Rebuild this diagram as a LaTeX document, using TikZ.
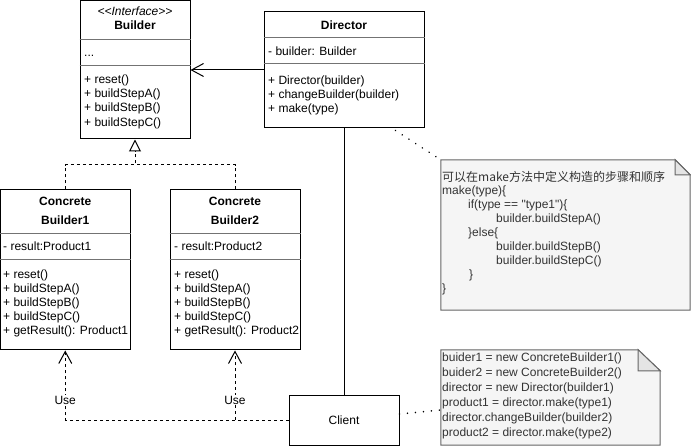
\documentclass[tikz,border=0pt]{standalone}
\usepackage{fontspec}
\setmainfont{Liberation Sans}[Ligatures=TeXOff]
\newfontfamily\cjkfont{Noto Sans CJK SC}
\usetikzlibrary{arrows.meta}
\definecolor{notefill}{HTML}{F5F5F5}
\definecolor{notestroke}{HTML}{666666}
\definecolor{notetext}{HTML}{333333}
\definecolor{foldfill}{HTML}{E4E4E4}
\tikzset{
  cls/.style={draw=black, line width=1pt, rectangle, inner sep=0pt, font=\fontsize{12}{14}\selectfont},
  sepline/.style={draw=black!55, line width=1pt},
  txt/.style={inner sep=0pt, anchor=west, align=left, font=\fontsize{12}{14.2}\selectfont},
  ttl/.style={inner sep=0pt, align=center, font=\fontsize{12}{19}\selectfont\bfseries},
  stereo/.style={inner sep=0pt, font=\fontsize{12}{14}\selectfont\itshape},
  notetxt/.style={inner sep=0pt, anchor=west, align=left, text=notetext, font=\fontsize{12}{14}\selectfont},
  notebox/.style={inner sep=0pt, rectangle},
  noteshape/.style={fill=notefill, draw=notestroke, line width=1pt, line join=miter},
  foldshape/.style={fill=foldfill, draw=notestroke, line width=1pt, line join=miter},
  assoc/.style={draw=black, line width=1pt, -{Straight Barb[length=12pt, width=13pt, line join=miter]}},
  usearrow/.style={draw=black, line width=1pt, dash pattern=on 3pt off 3pt, -{Straight Barb[length=12pt, width=13pt, line join=miter]}},
  inherit/.style={draw=black, line width=1pt, dash pattern=on 3pt off 3pt},
  dotline/.style={draw=black, line width=1.7pt, line cap=round, dash pattern=on 0.01pt off 8pt},
  plainline/.style={draw=black, line width=1pt},
  uselabel/.style={fill=white, inner sep=1pt, font=\fontsize{12}{14}\selectfont},
}
\begin{document}
\begin{tikzpicture}[x=1pt,y=-1pt]
\fill[white] (0,0) rectangle (691,446);
\useasboundingbox (0,0) rectangle (691,446);

% ---------- Builder (interface)
\node[cls, minimum width=110pt, minimum height=138pt] (builder) at (135,70) {};
\node[stereo] (builderstereo) at (135,11) {<\kern0pt<Interface>\kern0pt>};
\node[ttl] (buildername) at (135,25.5) {Builder};
\draw[sepline] (builder.west |- 0,39.5) -- (builder.east |- 0,39.5);
\node[txt] (builderattr) at (84,56) {...};
\draw[sepline] (builder.west |- 0,66) -- (builder.east |- 0,66);
\node[txt, font=\fontsize{12}{14.33}\selectfont] (buildermeth) at (84,101.5)
  {+ reset()\\+ buildStepA()\\+ buildStepB()\\+ buildStepC()};

% ---------- Director
\node[cls, minimum width=160pt, minimum height=116pt] (director) at (344,70) {};
\node[ttl] (directorname) at (344,25) {Director};
\draw[sepline] (director.west |- 0,37.5) -- (director.east |- 0,37.5);
\node[txt] (directorattr) at (268,51) {- builder: Builder};
\draw[sepline] (director.west |- 0,64) -- (director.east |- 0,64);
\node[txt] (directormeth) at (268,95.3)
  {+ Director(builder)\\+ changeBuilder(builder)\\+ make(type)};

% ---------- Concrete Builder 1
\node[cls, minimum width=129.5pt, minimum height=160pt] (cb1) at (65.25,270) {};
\node[ttl] (cb1name) at (65.25,210.5) {Concrete\\Builder1};
\draw[sepline] (cb1.west |- 0,233.5) -- (cb1.east |- 0,233.5);
\node[txt] (cb1attr) at (3,246.5) {- result:Product1};
\draw[sepline] (cb1.west |- 0,260) -- (cb1.east |- 0,260);
\node[txt, font=\fontsize{12}{14.15}\selectfont] (cb1meth) at (3,303.2)
  {+ reset()\\+ buildStepA()\\+ buildStepB()\\+ buildStepC()\\+ getResult(): Product1};

% ---------- Concrete Builder 2
\node[cls, minimum width=130pt, minimum height=160pt] (cb2) at (235,270) {};
\node[ttl] (cb2name) at (235,210.5) {Concrete\\Builder2};
\draw[sepline] (cb2.west |- 0,233.5) -- (cb2.east |- 0,233.5);
\node[txt] (cb2attr) at (174,246.5) {- result:Product2};
\draw[sepline] (cb2.west |- 0,260) -- (cb2.east |- 0,260);
\node[txt, font=\fontsize{12}{14.15}\selectfont] (cb2meth) at (174,303.2)
  {+ reset()\\+ buildStepA()\\+ buildStepB()\\+ buildStepC()\\+ getResult(): Product2};

% ---------- Client
\node[cls, minimum width=110pt, minimum height=50pt] (client) at (344,420) {Client};

% ---------- Note 1
\node[notebox, minimum width=249pt, minimum height=150pt] (note1) at (565.5,235) {};
\draw[noteshape] (note1.north west) -- ([xshift=-15pt]note1.north east)
  -- ([yshift=-15pt]note1.north east) -- (note1.south east) -- (note1.south west) -- cycle;
\draw[foldshape] ([xshift=-15pt]note1.north east) -- ([xshift=-15pt,yshift=-15pt]note1.north east)
  -- ([yshift=-15pt]note1.north east) -- cycle;
\node[notetxt, font=\cjkfont\fontsize{12}{14}\selectfont] (note1title) at (442,177) {可以在make方法中定义构造的步骤和顺序};
\node[notetxt] (note1code) at (442,240)
  {make(type)\{\\
   \hspace*{26pt}if(type == "type1")\{\\
   \hspace*{54pt}builder.buildStepA()\\
   \hspace*{26pt}\}else\{\\
   \hspace*{54pt}builder.buildStepB()\\
   \hspace*{54pt}builder.buildStepC()\\
   \hspace*{27pt}\}\\
   \}};

% ---------- Note 2
\node[notebox, minimum width=219pt, minimum height=95pt] (note2) at (550.5,397.5) {};
\draw[noteshape] (note2.north west) -- ([xshift=-22pt]note2.north east)
  -- ([yshift=-21pt]note2.north east) -- (note2.south east) -- (note2.south west) -- cycle;
\draw[foldshape] ([xshift=-22pt]note2.north east) -- ([xshift=-22pt,yshift=-21pt]note2.north east)
  -- ([yshift=-21pt]note2.north east) -- cycle;
\node[notetxt, font=\fontsize{12}{15.1}\selectfont] (note2code) at (442,396)
  {buider1 = new ConcreteBuilder1()\\
   buider2 = new ConcreteBuilder2()\\
   director = new Director(builder1)\\
   product1 = director.make(type1)\\
   director.changeBuilder(builder2)\\
   product2 = director.make(type2)};

% ---------- Connectors
\draw[assoc] (director.west) -- (builder.east);
\coordinate (inhjoin) at (135,165);
\draw[inherit] (cb1.north) |- (inhjoin);
\draw[inherit, -{Triangle[open, length=12pt, width=12pt, line join=miter]}] (cb2.north) |- (inhjoin) -- (builder.south);
\draw[plainline] (client.north) -- (director.south);
\draw[usearrow] (client.west) -| (cb1.south);
\draw[usearrow] (client.west) -| (cb2.south);
\node[uselabel] (use1) at (cb1.south |- 0,400) {Use};
\node[uselabel] (use2) at (cb2.south |- 0,400) {Use};
\draw[dotline] ([xshift=-29pt,yshift=-2pt]director.south east) -- (note1.north west);
\draw[dotline] ([yshift=6pt]client.east) -- ([yshift=-12.5pt]note2.west);
\end{tikzpicture}
\end{document}
